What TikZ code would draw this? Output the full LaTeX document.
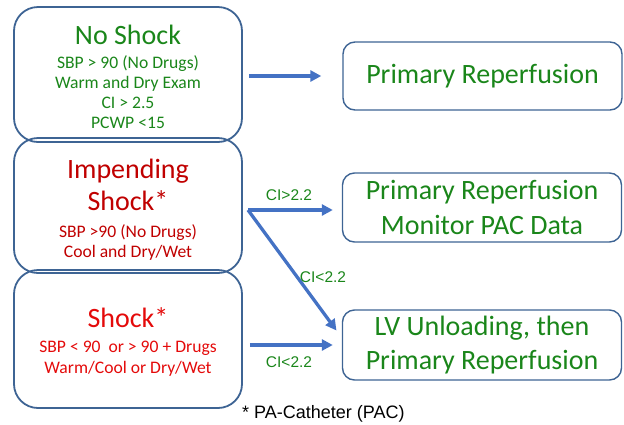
\documentclass[tikz,border=0pt]{standalone}
\usepackage{fontspec}
\setmainfont{Carlito}
\newfontfamily\arialf{Liberation Sans}
\usetikzlibrary{arrows.meta,calc}
\definecolor{boxblue}{RGB}{62,100,148}
\definecolor{arrblue}{RGB}{68,114,196}
\definecolor{tgreen}{RGB}{26,134,26}
\definecolor{dred}{RGB}{192,0,0}
\definecolor{bred}{RGB}{228,10,10}
\begin{document}
\begin{tikzpicture}[x=1pt,y=-1pt,
  lbox/.style={draw=boxblue, line width=1.8pt, rounded corners=24pt, minimum width=228pt, inner sep=0pt},
  rbox/.style={draw=boxblue, line width=1.4pt, rounded corners=12pt, minimum width=279pt, minimum height=68pt,
     inner sep=0pt, align=center, text=tgreen, font=\fontsize{28}{34.5}\selectfont},
  ltext/.style={align=center, anchor=base, inner sep=0pt, font=\fontsize{17.6}{20}\selectfont},
  arr/.style={draw=arrblue, line width=3.3pt, -{Triangle[length=11pt,width=11pt]}},
  lab/.style={font=\arialf\fontsize{15.5}{18}\selectfont, text=tgreen, anchor=base, inner sep=0pt}]
\useasboundingbox (0,0) rectangle (624,424);
\newcommand{\bigttl}[1]{\smash{\fontsize{28}{33}\selectfont #1}}
% left boxes
\node[lbox, minimum height=135pt] (b1) at (128,74.5) {};
\node[lbox, minimum height=135pt] (b2) at (128,205.5) {};
\node[lbox, minimum height=138pt] (b3) at (128,339) {};
% left texts (anchored at the baseline of their last line)
\node[ltext, text=tgreen] (t1) at (128,128) {\bigttl{No Shock}\\[4pt] SBP > 90 (No Drugs)\\ Warm and Dry Exam\\ CI > 2.5\\ PCWP <15};
\node[ltext, text=dred] (t2) at (128,257) {\bigttl{Impending}\\[12pt] \bigttl{Shock*}\\[7pt] SBP >90 (No Drugs)\\ Cool and Dry/Wet};
\node[ltext, text=bred] (t3) at (128,373) {\bigttl{Shock*}\\[5pt] SBP < 90\ \ or > 90 + Drugs\\[1pt] Warm/Cool or Dry/Wet};
% right boxes
\node[rbox] (r1) at (482.5,76) {Primary Reperfusion};
\node[rbox, minimum height=69pt] (r2) at (482,207.5) {Primary Reperfusion\\ Monitor PAC Data};
\node[rbox, minimum height=70pt] (r3) at (482,345) {LV Unloading, then\\ Primary Reperfusion};
% arrows
\coordinate (fork) at (248,210);
\draw[arr, shorten <=6pt, shorten >=21pt] (b1.east |- r1.west) -- (r1.west);
\draw[arr, shorten >=9pt] (fork) -- (fork -| r2.west);
\draw[arr, shorten >=9pt] (fork) -- ($(r3.west)+(0,-7.2)$);
\draw[arr, shorten <=7pt, shorten >=9pt] (b3.east |- r3.west) -- (r3.west);
% labels
\node[lab] (l1) at (289,200) {CI>2.2};
\node[lab] (l2) at (323,282) {CI<2.2};
\node[lab] (l3) at (289,367) {CI<2.2};
\node[anchor=base west, inner sep=0pt, font=\arialf\fontsize{18}{21}\selectfont] (fn) at (242,418) {* PA-Catheter (PAC)};
\end{tikzpicture}
\end{document}
